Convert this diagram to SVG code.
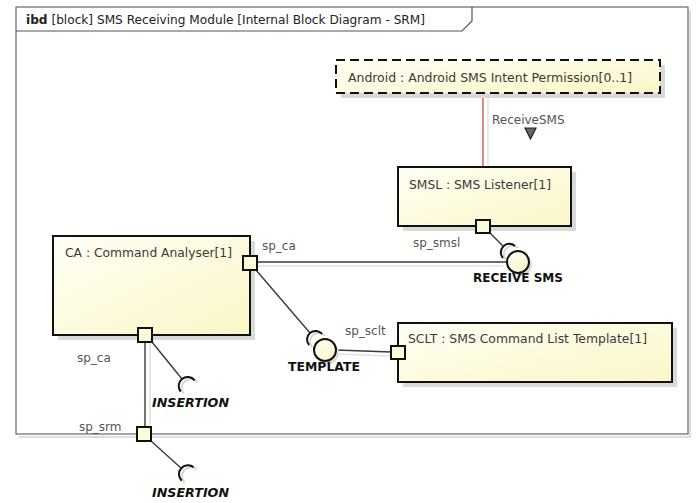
<svg xmlns="http://www.w3.org/2000/svg" width="697" height="503" viewBox="0 0 697 503">
<style>
text{font-family:"DejaVu Sans","Liberation Sans",sans-serif;}
.frame{fill:#fff;stroke:#666;stroke-width:1.2;}
.fshadow{fill:none;stroke:#ddd;stroke-width:2;}
.box{fill:url(#yg);stroke:#111;stroke-width:2;}
.dash{stroke-dasharray:9,5;}
.shadow{fill:#d9d9d9;}
.title{font-size:12px;fill:#3a3a3a;}
.port{fill:#fdfbd8;stroke:#111;stroke-width:2;}
.lbl{font-size:12px;fill:#555;}
.iface{font-size:12px;font-weight:bold;fill:#111;}
.it{font-style:italic;}
.line{stroke:#3a3a3a;stroke-width:1.4;fill:none;}
.lshadow{stroke:#e2e2e2;stroke-width:1.4;fill:none;}
.sock{stroke:#111;stroke-width:2;fill:none;}
.sockshadow{stroke:#d6d6d6;stroke-width:2;fill:none;}
.ball{fill:url(#yg);stroke:#111;stroke-width:2;}
</style>
<defs>
<linearGradient id="yg" x1="0" y1="0" x2="1" y2="1">
<stop offset="0" stop-color="#fffff6"/>
<stop offset="1" stop-color="#fbf6c6"/>
</linearGradient>
</defs>
<rect width="697" height="503" fill="#fff"/>
<g id="frame">
<path class="fshadow" d="M690,10 V437 H19"/>
<rect class="frame" x="16" y="7" width="672" height="427"/>
<path d="M16,31 H462 L472,21 V7" fill="none" stroke="#555" stroke-width="1.2"/>
<text x="26" y="24" font-size="12" fill="#222" textLength="399" lengthAdjust="spacingAndGlyphs"><tspan font-weight="bold">ibd</tspan> [block] SMS Receiving Module [Internal Block Diagram - SRM]</text>
</g>
<g id="connectors">
<line class="lshadow" x1="488" y1="93" x2="488" y2="168"/>
<line x1="483" y1="93" x2="483" y2="167" stroke="#de6b6b" stroke-width="1.6"/>
<line class="lshadow" x1="258" y1="266" x2="503" y2="266"/>
<line class="line" x1="257" y1="262" x2="507" y2="262"/>
<line class="line" x1="490" y1="233" x2="503" y2="246"/>
<line class="line" x1="256" y1="270" x2="310" y2="333"/>
<line class="lshadow" x1="337" y1="354" x2="391" y2="356"/>
<line class="line" x1="336" y1="350" x2="391" y2="352"/>
<line class="lshadow" x1="150" y1="343" x2="150" y2="427"/>
<line class="line" x1="145" y1="342" x2="145" y2="427"/>
<line class="line" x1="152" y1="342" x2="182" y2="379"/>
<line class="line" x1="151" y1="441" x2="181" y2="468"/>
<text class="lbl" x="492" y="124">ReceiveSMS</text>
<polygon points="525,128 536,128 530.5,139" fill="#666" stroke="#222" stroke-width="1.2"/>
</g>
<g id="android">
<rect class="shadow" x="341" y="65" width="324" height="33"/>
<rect class="box dash" x="336" y="60" width="324" height="33"/>
<text class="title" x="348" y="82" textLength="284" lengthAdjust="spacingAndGlyphs">Android : Android SMS Intent Permission[0..1]</text>
</g>
<g id="smsl">
<rect class="shadow" x="403" y="172" width="173" height="59"/>
<rect class="box" x="398" y="167" width="173" height="59"/>
<text class="title" x="409" y="189" textLength="142" lengthAdjust="spacingAndGlyphs">SMSL : SMS Listener[1]</text>
<rect class="port" x="476" y="220" width="14" height="13"/>
<text class="lbl" x="413" y="247">sp_smsl</text>
</g>
<g id="ca">
<rect class="shadow" x="58" y="241" width="197" height="99"/>
<rect class="box" x="53" y="236" width="197" height="99"/>
<text class="title" x="65" y="257" textLength="167" lengthAdjust="spacingAndGlyphs">CA : Command Analyser[1]</text>
<rect class="port" x="243" y="256" width="14" height="14"/>
<text class="lbl" x="262" y="250">sp_ca</text>
<rect class="port" x="138" y="328" width="14" height="14"/>
<text class="lbl" x="77" y="362">sp_ca</text>
</g>
<g id="sclt">
<rect class="shadow" x="403" y="328" width="274" height="59"/>
<rect class="box" x="398" y="323" width="274" height="59"/>
<text class="title" x="408" y="343" textLength="239" lengthAdjust="spacingAndGlyphs">SCLT : SMS Command List Template[1]</text>
<rect class="port" x="391" y="346" width="14" height="13"/>
<text class="lbl" x="345" y="335">sp_sclt</text>
</g>
<g id="srm-port">
<rect class="port" x="137" y="427" width="14" height="14"/>
<text class="lbl" x="79" y="431">sp_srm</text>
</g>
<g id="receive-sms">
<path class="sockshadow" d="M506,260 A8.5,8.5 0 0 1 518,248"/>
<path class="sock" d="M503,258 A8.5,8.5 0 0 1 515,246"/>
<circle cx="521" cy="265" r="11" fill="#ddd"/>
<circle class="ball" cx="518" cy="262" r="11"/>
<text class="iface" x="473" y="282" textLength="90" lengthAdjust="spacingAndGlyphs">RECEIVE SMS</text>
</g>
<g id="template">
<path class="sockshadow" d="M312.1,347 A8.5,8.5 0 0 1 325,335.9"/>
<path class="sock" d="M309.1,345 A8.5,8.5 0 0 1 322,333.9"/>
<circle cx="328" cy="353" r="11" fill="#ddd"/>
<circle class="ball" cx="325" cy="350" r="11"/>
<text class="iface" x="288" y="371" textLength="72" lengthAdjust="spacingAndGlyphs">TEMPLATE</text>
</g>
<g id="insertion-ca">
<path class="sockshadow" d="M183.7,393.7 A9,9 0 0 1 197.7,382.3"/>
<path class="sock" d="M180.7,391.7 A9,9 0 0 1 194.7,380.3"/>
<text class="iface it" x="152" y="407" textLength="77" lengthAdjust="spacingAndGlyphs">INSERTION</text>
</g>
<g id="insertion-srm">
<path class="sockshadow" d="M184.7,482.7 A9,9 0 0 1 196.7,469.3"/>
<path class="sock" d="M181.7,480.7 A9,9 0 0 1 193.7,467.3"/>
<text class="iface it" x="152" y="497" textLength="77" lengthAdjust="spacingAndGlyphs">INSERTION</text>
</g>
</svg>
